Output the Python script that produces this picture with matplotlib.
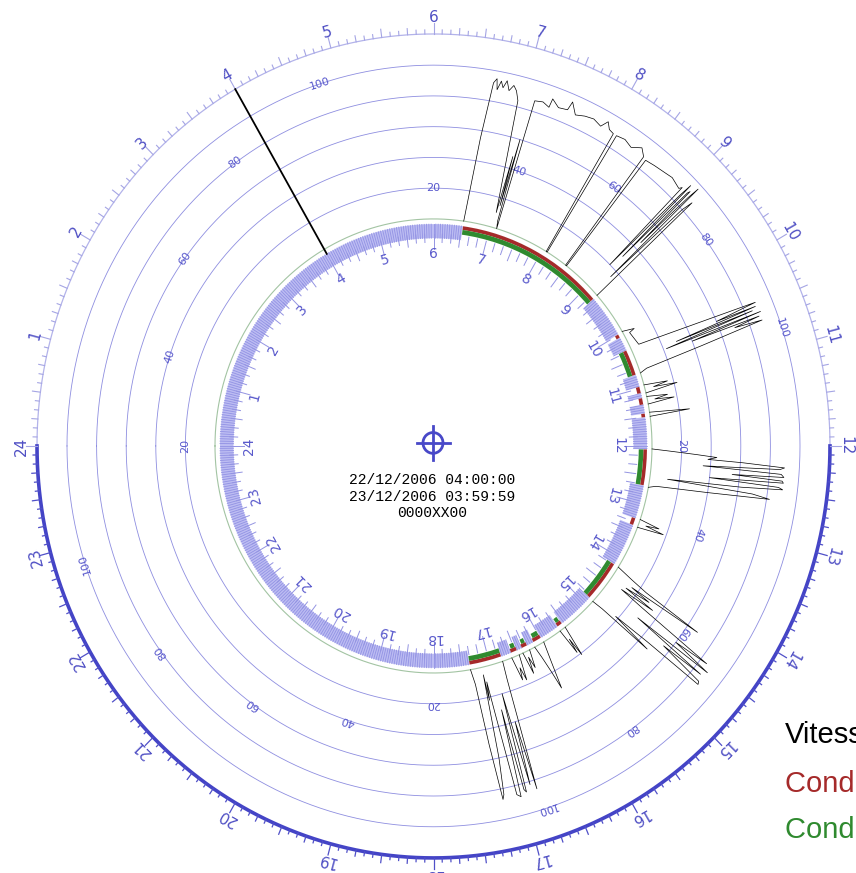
import numpy as np
import matplotlib
matplotlib.use("Agg")
import matplotlib.pyplot as plt
from matplotlib.patches import Wedge, Ellipse


debut = "22/12/2006 04:00:00"
fin = "23/12/2006 03:59:59"
immat = "0000XX00"
aiguille = 4.0
paliers = [20, 40, 60, 80, 100]
heures = list(range(1, 25))
legende = ["Vitesse", "Conducteur 1", "Conducteur 2"]

# trajets : heures (h) et vitesses (km/h)
hA = [6.53, 6.60, 6.65, 6.68, 6.70, 6.73, 6.76, 6.79, 6.83, 6.87, 6.91, 6.95, 7.04, 7.06, 7.07, 7.09,
      7.10, 7.12, 7.13, 7.22, 7.30, 7.31, 7.40, 7.50, 7.52, 7.60, 7.70, 7.80, 7.90, 7.95, 8.00, 8.06,
      8.07, 8.09, 8.10, 8.20, 8.30, 8.40, 8.47, 8.48, 8.50, 8.51, 8.62, 8.75, 8.85, 8.98, 9.00, 9.02,
      9.04, 9.05, 9.07, 9.08, 9.09, 9.11, 9.12, 9.13, 9.16, 9.17, 9.19, 9.23]
vA = [0, 55, 92, 95, 88, 94, 90, 95, 89, 93, 90, 84, 10, 48, 15, 60,
      5, 0, 87, 88, 86, 92, 88, 89, 95, 88, 90, 91, 89, 94, 90, 89,
      0, 0, 89, 90, 88, 92, 88, 0, 0, 87, 88, 89, 90, 88, 90, 20,
      86, 95, 30, 90, 92, 45, 88, 97, 15, 80, 88, 0]
hB = [9.98, 10.04, 10.06, 10.30, 10.45, 10.47, 10.49, 10.50, 10.52, 10.54, 10.56, 10.58, 10.60,
      10.62, 10.65, 10.68, 10.71, 10.75]
vB = [0, 8, 4, 6, 89, 60, 88, 30, 85, 22, 90, 40, 88, 70, 89, 45, 5, 0]
hC = [10.96, 11.00, 11.03, 11.06, 11.10]
vC = [0, 16, 6, 22, 0]
hD = [11.16, 11.20, 11.23, 11.26, 11.29]
vD = [0, 14, 5, 18, 0]
hE = [11.43, 11.47, 11.50]
vE = [0, 27, 0]
hF = [12.05, 12.08, 12.12, 12.15, 12.18, 12.20, 12.23, 12.25, 12.27, 12.30, 12.33, 12.35, 12.37,
      12.39, 12.42, 12.44, 12.46, 12.49, 12.52, 12.55, 12.58, 12.62, 12.66, 12.70]
vF = [0, 12, 30, 44, 38, 62, 90, 87, 35, 88, 90, 55, 89, 90, 40, 87, 90, 62, 12, 70, 82, 40, 5, 0]
hG = [13.26, 13.30, 13.33, 13.36, 13.40]
vG = [0, 14, 5, 18, 0]
hH = [14.15, 14.20, 14.24, 14.28, 14.30, 14.33, 14.36, 14.39, 14.42, 14.45, 14.50, 14.53, 14.57,
      14.60, 14.63, 14.66, 14.70, 14.73, 14.76, 14.80, 14.83, 14.86, 14.88]
vH = [0, 12, 25, 68, 15, 30, 12, 35, 10, 28, 85, 60, 89, 30, 86, 55, 88, 89, 45, 18, 48, 8, 0]
hI = [15.53, 15.57, 15.59, 15.61, 15.64]
vI = [0, 21, 8, 18, 0]
hJ = [15.98, 16.03, 16.08, 16.10, 16.13, 16.16]
vJ = [0, 14, 32, 20, 8, 0]
hK = [16.26, 16.30, 16.33, 16.36, 16.39]
vK = [0, 12, 4, 15, 0]
hL = [16.46, 16.50, 16.53, 16.56, 16.60]
vL = [0, 17, 8, 16, 0]
hM = [16.77, 16.79, 16.84, 16.86, 16.90, 16.93, 16.96, 16.98, 17.00, 17.03, 17.07, 17.10, 17.12,
      17.14, 17.15, 17.16, 17.18, 17.21, 17.23, 17.27, 17.31, 17.35]
vM = [0, 12, 86, 40, 82, 20, 86, 84, 30, 88, 86, 35, 10, 22, 5, 18, 60, 84, 87, 50, 10, 0]

trajets = [(hA, vA), (hB, vB), (hC, vC), (hD, vD), (hE, vE), (hF, vF), (hG, vG),
           (hH, vH), (hI, vI), (hJ, vJ), (hK, vK), (hL, vL), (hM, vM)]

cond_rouge = [(6.53, 9.23), (9.99, 10.05), (10.30, 10.75), (10.97, 11.08), (11.17, 11.28),
              (11.44, 11.50), (12.06, 12.68), (13.27, 13.39), (14.15, 14.87), (15.54, 15.63),
              (15.99, 16.14), (16.27, 16.37), (16.47, 16.58), (16.77, 17.35)]
cond_verte = [(6.53, 9.23), (10.30, 10.75), (12.06, 12.68), (14.15, 14.87), (15.55, 15.62),
              (16.00, 16.12), (16.28, 16.35), (16.48, 16.56), (16.77, 17.35)]

R_IN = 200.0
R_OUT = 213.5
R0 = 218.5
K = 1.48
R_CAD = 396.5

BLEU = "#4f4fc4"
BLEU_CLAIR = "#b3b3ea"


def ang(h):
    return np.radians(180 - 15 * np.asarray(h, dtype=float))


def xy(h, r):
    a = ang(h)
    return r * np.cos(a), r * np.sin(a)


def dans(h, intervalles):
    return any(a <= h <= b for a, b in intervalles)


fig = plt.figure(figsize=(8.56, 8.73), dpi=100)
ax = fig.add_axes([0, 0, 1, 1])
ax.set_xlim(-433.5, 422.5)
ax.set_ylim(-411, 429.2)
ax.axis("off")

# cercles de vitesse
t = np.linspace(0, 24, 1441)
for v in [0] + paliers:
    x, y = xy(t, R0 + K * v)
    if v == 0:
        ax.plot(x, y, color="#a3c4a3", lw=0.8, zorder=1)
    else:
        ax.plot(x, y, color="#8e8ee0", lw=0.6, zorder=1)

for depart in [180, 90, 0, -90]:
    for i, v in enumerate(paliers):
        a = depart - 18 * i
        r = R0 + K * v
        ax.text(r * np.cos(np.radians(a)), r * np.sin(np.radians(a)), str(v),
                rotation=a - 90, rotation_mode="anchor", ha="center", va="center",
                fontsize=8, color="#5757cc", zorder=2)

# cadran extérieur
x, y = xy(np.linspace(0, 12, 721), R_CAD)
ax.plot(x, y, color=BLEU_CLAIR, lw=0.9, zorder=2)
x, y = xy(np.linspace(12, 24, 721), R_CAD)
ax.plot(x, y, color="#4444c6", lw=2.6, zorder=2)

for m in range(0, 24 * 60, 5):
    h = m / 60
    if m % 60 == 0:
        lg = 11
    elif m % 30 == 0:
        lg = 8
    elif m % 15 == 0:
        lg = 6
    else:
        lg = 4
    x, y = xy([h, h], [R_CAD, R_CAD + lg])
    if 12 <= h < 24 and m != 720:
        ax.plot(x, y, color="#5050c8", lw=0.9, zorder=2)
    else:
        ax.plot(x, y, color="#a5a5e4", lw=0.8, zorder=2)

for h in heures:
    x, y = xy(h, 412)
    ax.text(x, y, str(h), rotation=90 - 15 * h, rotation_mode="anchor",
            ha="center", va="center", fontsize=11, color=BLEU, zorder=3)

# bande horaire intérieure
ax.add_patch(Wedge((0, 0), R_OUT, 0, 360, width=R_OUT - R_IN,
                   facecolor="#bcbcf2", edgecolor="none", zorder=2))
for m in np.arange(0, 24 * 60, 2.5):
    h = m / 60
    if dans(h, cond_rouge) or dans(h, cond_verte):
        continue
    x, y = xy([h, h], [R_IN, R_OUT])
    ax.plot(x, y, color="#9292e4", lw=0.6, zorder=2)

for a, b in cond_rouge + cond_verte:
    ax.add_patch(Wedge((0, 0), R_OUT + 0.3, 180 - 15 * b, 180 - 15 * a, width=R_OUT - R_IN + 0.6,
                       facecolor="white", edgecolor="none", zorder=2.5))
for a, b in cond_rouge:
    ax.add_patch(Wedge((0, 0), R_OUT, 180 - 15 * b, 180 - 15 * a, width=3.6,
                       facecolor="#a52a2a", edgecolor="none", zorder=3))
for a, b in cond_verte:
    ax.add_patch(Wedge((0, 0), R_OUT - 3.6, 180 - 15 * b, 180 - 15 * a, width=4.6,
                       facecolor="#2f8a2f", edgecolor="none", zorder=3))

for m in range(0, 24 * 60, 10):
    h = m / 60
    if m % 60 == 0:
        lg = 10
    elif m % 30 == 0:
        lg = 7
    else:
        lg = 4
    x, y = xy([h, h], [R_IN - lg, R_IN + 4])
    ax.plot(x, y, color="#9494e2", lw=0.7, zorder=2.6)

for h in heures:
    x, y = xy(h, 185)
    ax.text(x, y, str(h), rotation=90 - 15 * h, rotation_mode="anchor",
            ha="center", va="center", fontsize=10, color="#5a5acc", zorder=3)

# aiguille de début
x, y = xy([aiguille, aiguille], [R_OUT, R_CAD])
ax.plot(x, y, color="black", lw=1.3, zorder=4)

# courbes de vitesse
for hs, vs in trajets:
    x, y = xy(hs, R0 + K * np.array(vs, dtype=float))
    ax.plot(x, y, color="black", lw=0.5, zorder=4)

# centre
ax.add_patch(Ellipse((-0.5, 2.9), 20, 20, facecolor="none", edgecolor="#4848c8", lw=2, zorder=5))
ax.plot([-17, 16], [2.9, 2.9], color="#4848c8", lw=2, zorder=5)
ax.plot([-0.5, -0.5], [-13.5, 19.3], color="#4848c8", lw=2, zorder=5)
for txt, yy in zip([debut, fin, immat], [-32.7, -49.0, -64.5]):
    ax.text(-1.5, yy, txt, ha="center", va="center", fontsize=10.5,
            family="Liberation Mono", color="black", zorder=5)

# légende
for txt, yy, c in zip(legende, [-285.9, -333.0, -377.3], ["black", "#a52a2a", "#2f8a2f"]):
    ax.text(351.5, yy, txt, ha="left", va="baseline", fontsize=21,
            family="Liberation Sans", color=c, zorder=5)

fig.savefig("out.png", dpi=100)
